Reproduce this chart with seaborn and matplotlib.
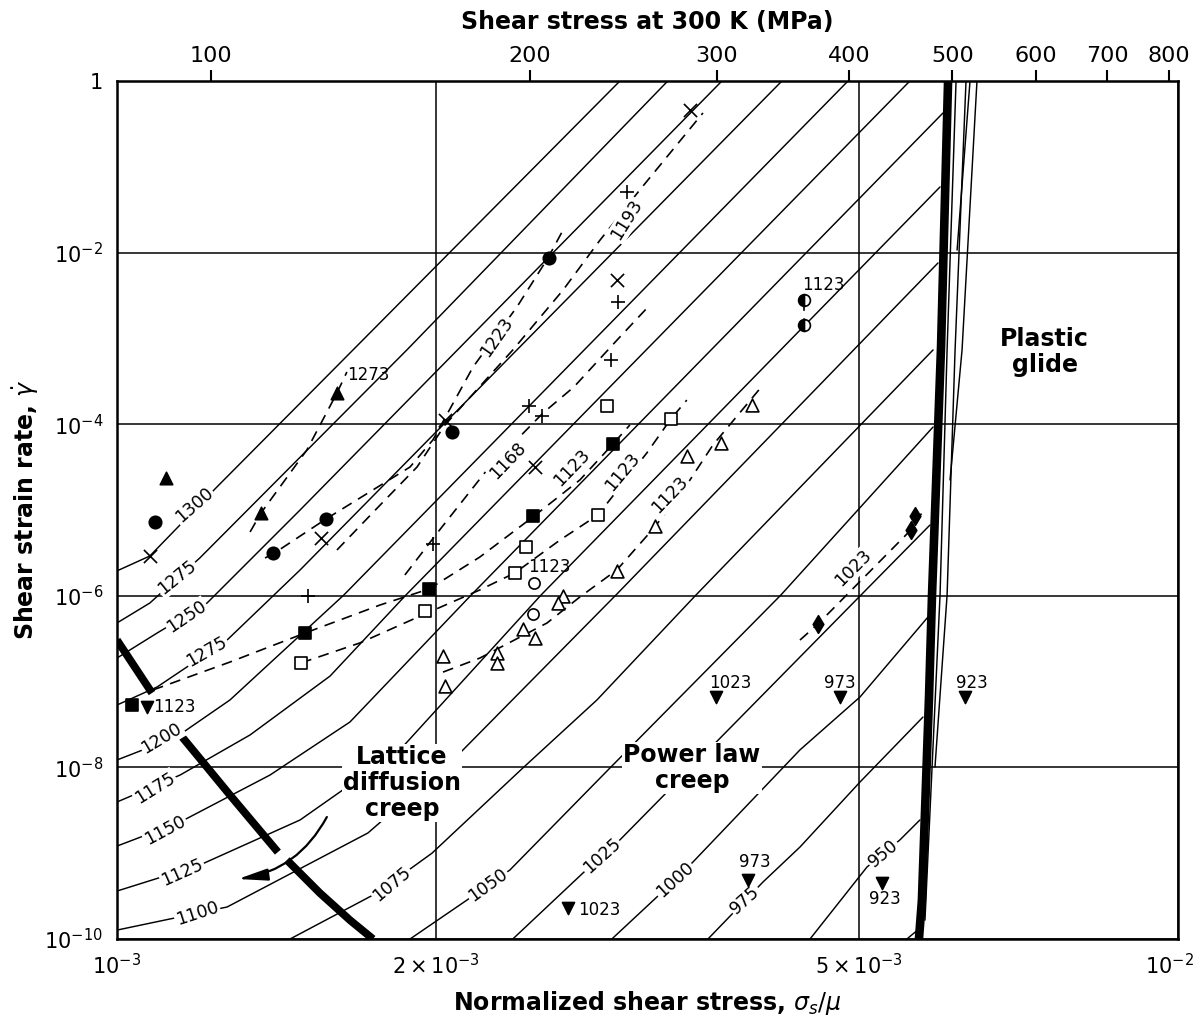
import matplotlib
matplotlib.use("Agg")
import matplotlib.pyplot as plt
from matplotlib.ticker import NullLocator
from matplotlib.transforms import ScaledTranslation
import pandas as pd
import seaborn as sns

MU = 81.6e3  # shear modulus at 300 K, MPa

# temperature contours (K): (normalized shear stress, shear strain rate)
iso_1300 = ([1.000e-3, 1.074e-3, 1.242e-3, 1.669e-3, 2.979e-3],
            [1.95e-6, 2.91e-6, 1.85e-5, 7.33e-4, 1.0])
iso_1275 = ([1.000e-3, 1.074e-3, 1.197e-3, 1.876e-3, 3.305e-3],
            [4.82e-7, 8.24e-7, 2.76e-6, 7.33e-4, 1.0])
iso_1250 = ([1.000e-3, 1.091e-3, 1.216e-3, 1.488e-3, 3.717e-3],
            [1.88e-7, 3.68e-7, 8.24e-7, 1.00e-5, 1.0])
iso_1225 = ([1.000e-3, 1.091e-3, 1.270e-3, 1.488e-3, 4.234e-3],
            [5.33e-8, 8.65e-8, 3.05e-7, 2.00e-6, 1.0])
iso_1200 = ([1.000e-3, 1.058e-3, 1.152e-3, 1.278e-3, 1.636e-3, 4.887e-3],
            [1.22e-8, 1.60e-8, 2.52e-8, 6.11e-8, 1.02e-6, 1.0])
iso_1175 = ([1.000e-3, 1.147e-3, 1.335e-3, 1.588e-3, 1.872e-3, 5.589e-3],
            [3.95e-9, 8.15e-9, 2.39e-8, 1.16e-7, 1.02e-6, 1.0])
iso_1150 = ([1.000e-3, 1.147e-3, 1.394e-3, 1.658e-3, 2.157e-3, 6.006e-3],
            [1.21e-9, 2.31e-9, 8.15e-9, 3.38e-8, 1.02e-6, 0.424])
iso_1125 = ([1.000e-3, 1.197e-3, 1.488e-3, 1.848e-3, 2.510e-3, 5.967e-3],
            [3.62e-10, 7.28e-10, 2.44e-9, 1.60e-8, 1.02e-6, 5.82e-2])
iso_1100 = ([1.000e-3, 1.270e-3, 1.724e-3, 2.105e-3, 2.953e-3, 5.941e-3],
            [1.27e-10, 2.36e-10, 1.72e-9, 1.47e-8, 1.02e-6, 7.57e-3])
iso_1075 = ([1.456e-3, 1.758e-3, 1.981e-3, 2.413e-3, 2.834e-3, 3.513e-3, 5.877e-3],
            [1e-10, 3.44e-10, 1.00e-9, 9.84e-9, 6.11e-8, 1.02e-6, 7.33e-4])
iso_1050 = ([1.889e-3, 2.138e-3, 2.346e-3, 2.915e-3, 4.224e-3, 5.877e-3],
            [1e-10, 2.85e-10, 6.37e-10, 9.84e-9, 1.02e-6, 9.27e-5])
iso_1025 = ([2.361e-3, 2.749e-3, 2.979e-3, 5.026e-3, 5.838e-3],
            [1e-10, 5.87e-10, 1.43e-9, 1.02e-6, 6.68e-6])
iso_1000 = ([2.927e-3, 3.228e-3, 3.490e-3, 4.403e-3, 5.016e-3, 5.813e-3],
            [1e-10, 3.09e-10, 7.88e-10, 1.60e-8, 6.62e-8, 5.66e-7])
iso_975 = ([3.606e-3, 4.063e-3, 4.403e-3, 5.016e-3, 5.750e-3],
           [1e-10, 4.61e-10, 1.18e-9, 6.76e-9, 3.86e-8])
iso_950 = ([4.500e-3, 5.092e-3, 5.470e-3, 5.712e-3],
           [1e-10, 6.90e-10, 1.43e-9, 2.44e-9])
iso_925 = ([5.553e-3, 5.700e-3], [1e-10, 1.31e-10])

# plastic glide contours
glide_a = ([5.775e-3, 5.967e-3, 6.059e-3, 6.178e-3], [1.66e-10, 1.02e-6, 7.33e-4, 1.0])
glide_b = ([5.902e-3, 6.059e-3, 6.165e-3, 6.313e-3], [1.01e-8, 1.02e-6, 7.33e-4, 1.0])
glide_c = ([6.098e-3, 6.259e-3, 6.465e-3], [2.24e-5, 7.33e-4, 1.0])
glide_d = ([6.192e-3, 6.368e-3], [1.07e-2, 1.0])

# field boundaries
plastic_edge = ([6.072e-3, 5.980e-3, 5.864e-3, 5.826e-3, 5.737e-3, 5.700e-3],
                [1.0, 7.94e-4, 1.02e-6, 6.62e-8, 2.85e-10, 1e-10])
diffusion_edge_a = ([1.000e-3, 1.079e-3], [3.05e-7, 7.36e-8])
diffusion_edge_b = ([1.152e-3, 1.278e-3, 1.418e-3], [2.26e-8, 4.76e-9, 1.03e-9])
diffusion_edge_c = ([1.446e-3, 1.553e-3, 1.658e-3, 1.743e-3], [8.33e-10, 3.44e-10, 1.66e-10, 1e-10])

# experimental fits (dashed)
fit_1273 = ([1.335e-3, 1.367e-3, 1.510e-3, 1.612e-3, 1.647e-3],
            [5.55e-6, 9.23e-6, 5.00e-5, 2.31e-4, 4.06e-4])
fit_1223 = ([1.379e-3, 1.403e-3, 1.574e-3, 1.889e-3, 1.985e-3, 2.166e-3, 2.382e-3, 2.548e-3, 2.633e-3],
            [2.76e-6, 3.07e-6, 7.85e-6, 3.17e-5, 6.55e-5, 4.65e-4, 2.32e-3, 8.65e-3, 1.83e-2])
fit_1193 = ([1.612e-3, 1.770e-3, 1.918e-3, 2.038e-3, 2.361e-3, 2.633e-3, 2.852e-3, 3.110e-3, 3.567e-3],
            [3.42e-6, 1.14e-5, 3.17e-5, 9.80e-5, 7.33e-4, 3.66e-3, 1.39e-2, 5.37e-2, 0.424])
fit_1168 = ([1.868e-3, 2.004e-3, 2.232e-3, 2.521e-3, 2.696e-3, 2.979e-3, 3.179e-3],
            [1.75e-6, 5.40e-6, 2.92e-5, 1.35e-4, 2.72e-4, 1.04e-3, 2.45e-3])
fit_1123_a = ([1.081e-3, 1.278e-3, 1.504e-3, 1.770e-3, 1.968e-3, 2.198e-3, 2.466e-3, 2.731e-3, 2.934e-3, 3.044e-3],
              [7.98e-8, 1.69e-7, 3.68e-7, 7.81e-7, 1.20e-6, 2.83e-6, 8.28e-6, 2.24e-5, 5.87e-5, 9.80e-5])
fit_1123_b = ([1.491e-3, 1.694e-3, 1.951e-3, 2.198e-3, 2.372e-3, 2.616e-3, 2.840e-3, 3.158e-3, 3.327e-3, 3.444e-3],
              [1.65e-7, 2.82e-7, 6.14e-7, 1.17e-6, 1.85e-6, 4.47e-6, 8.75e-6, 4.62e-5, 1.15e-4, 1.91e-4])
fit_1123_c = ([2.029e-3, 2.198e-3, 2.543e-3, 2.731e-3, 2.959e-3, 3.213e-3, 3.468e-3, 3.645e-3, 4.063e-3],
              [1.29e-7, 1.88e-7, 4.82e-7, 9.69e-7, 2.00e-6, 6.34e-6, 2.24e-5, 5.72e-5, 2.86e-4])
fit_1123_d = ([4.441e-3, 4.441e-3], [2.81e-3, 1.43e-3])
fit_1023 = ([4.403e-3, 4.578e-3, 5.601e-3, 5.775e-3], [3.05e-7, 4.69e-7, 5.85e-6, 1.05e-5])

# experimental points
tri_up = ([1.112e-3, 1.367e-3, 1.612e-3], [2.36e-5, 9.23e-6, 2.31e-4])
dots = ([1.086e-3, 1.403e-3, 1.574e-3, 2.069e-3, 2.554e-3],
        [7.24e-6, 3.16e-6, 7.85e-6, 8.11e-5, 8.65e-3])
crosses_x = ([1.074e-3, 1.557e-3, 2.038e-3, 2.477e-3, 2.959e-3, 3.468e-3],
             [2.91e-6, 4.72e-6, 1.12e-4, 3.17e-5, 4.80e-3, 0.459])
crosses_plus = ([1.514e-3, 1.985e-3, 2.445e-3, 2.515e-3, 2.921e-3, 2.966e-3, 3.024e-3],
                [9.95e-7, 4.02e-6, 1.63e-4, 1.25e-4, 5.60e-4, 2.65e-3, 5.08e-2])
squares_full = ([1.033e-3, 1.504e-3, 1.968e-3, 2.466e-3, 2.934e-3],
                [5.33e-8, 3.68e-7, 1.20e-6, 8.51e-6, 5.87e-5])
squares_open = ([1.491e-3, 1.951e-3, 2.372e-3, 2.429e-3, 2.840e-3, 2.896e-3, 3.327e-3],
                [1.65e-7, 6.65e-7, 1.85e-6, 3.71e-6, 8.75e-6, 1.63e-4, 1.15e-4])
rings = ([2.472e-3, 2.466e-3], [1.41e-6, 6.14e-7])
tri_open = ([3.967e-3, 3.709e-3, 3.444e-3, 3.213e-3, 2.959e-3, 2.633e-3, 2.604e-3,
             2.413e-3, 2.477e-3, 2.281e-3, 2.281e-3, 2.029e-3, 2.038e-3],
            [1.67e-4, 6.04e-5, 4.26e-5, 6.52e-6, 1.95e-6, 9.95e-7, 8.24e-7,
             4.10e-7, 3.22e-7, 2.15e-7, 1.65e-7, 1.99e-7, 8.89e-8])
tri_down = ([1.067e-3, 3.669e-3, 4.804e-3, 6.300e-3, 2.661e-3, 3.933e-3, 5.260e-3],
            [5.06e-8, 6.62e-8, 6.62e-8, 6.62e-8, 2.30e-10, 4.88e-10, 4.50e-10])
diamonds = ([4.578e-3, 5.601e-3, 5.650e-3], [4.69e-7, 5.85e-6, 8.51e-6])
half_rings = ([4.441e-3, 4.441e-3], [2.81e-3, 1.43e-3])

top_ticks = [100, 200, 300, 400, 500, 600, 700, 800]
x_ticks = [1e-3, 2e-3, 5e-3, 1e-2]
x_tick_labels = [r"$10^{-3}$", r"$2\times10^{-3}$", r"$5\times10^{-3}$", r"$10^{-2}$"]
y_ticks = [1e-10, 1e-8, 1e-6, 1e-4, 1e-2, 1]
y_tick_labels = [r"$10^{-10}$", r"$10^{-8}$", r"$10^{-6}$", r"$10^{-4}$", r"$10^{-2}$", "1"]

iso_labels = [("1300", 1.182e-3, 1.14e-5, 41), ("1275", 1.139e-3, 1.66e-6, 39),
              ("1250", 1.164e-3, 5.66e-7, 34), ("1275", 1.216e-3, 2.21e-7, 30),
              ("1200", 1.102e-3, 2.20e-8, 31), ("1175", 1.086e-3, 5.75e-9, 32),
              ("1150", 1.110e-3, 1.86e-9, 28), ("1125", 1.152e-3, 6.04e-10, 24),
              ("1100", 1.190e-3, 2.01e-10, 18), ("1075", 1.816e-3, 4.38e-10, 40),
              ("1050", 2.237e-3, 4.26e-10, 36), ("1025", 2.864e-3, 9.27e-10, 42),
              ("1000", 3.356e-3, 4.88e-10, 42), ("975", 3.907e-3, 2.85e-10, 42),
              ("950", 5.272e-3, 1.00e-9, 40)]
fit_labels = [("1223", 2.281e-3, 1.04e-3, 55), ("1193", 3.024e-3, 2.40e-2, 58),
              ("1168", 2.336e-3, 3.72e-5, 46), ("1123", 2.684e-3, 3.09e-5, 46),
              ("1123", 2.992e-3, 2.77e-5, 50), ("1123", 3.320e-3, 1.50e-5, 46),
              ("1023", 4.941e-3, 2.11e-6, 45)]
point_labels = [("1273", 1.647e-3, 3.74e-4, "left"), ("1123", 2.554e-3, 2.17e-6, "center"),
                ("1123", 4.628e-3, 4.19e-3, "center"), ("1123", 1.081e-3, 5.06e-8, "left"),
                ("1023", 3.782e-3, 9.64e-8, "center"), ("973", 4.804e-3, 9.64e-8, "center"),
                ("923", 6.394e-3, 9.64e-8, "center"), ("1023", 2.719e-3, 2.18e-10, "left"),
                ("973", 3.993e-3, 7.89e-10, "center"), ("923", 5.294e-3, 2.92e-10, "center")]


def stack(lines):
    rows = []
    for k, (stress, rate) in enumerate(lines):
        rows += [(k, s, r) for s, r in zip(stress, rate)]
    return pd.DataFrame(rows, columns=["line", "stress", "rate"])


def draw_lines(ax, lines, **kws):
    sns.lineplot(data=stack(lines), x="stress", y="rate", units="line",
                 estimator=None, sort=False, color="k", ax=ax, **kws)


def draw_points(ax, pts, marker, face="k", size=75, lw=1.2):
    stress, rate = pts
    if marker in ("+", "x"):
        sns.scatterplot(x=stress, y=rate, marker=marker, color="k", s=size,
                        linewidth=lw, ax=ax, zorder=6)
    else:
        sns.scatterplot(x=stress, y=rate, marker=marker, color=face, edgecolor="k",
                        s=size, linewidth=lw, ax=ax, zorder=6)


sns.set_style("white")
plt.rcParams["font.family"] = ["DejaVu Sans"]
plt.rcParams["mathtext.fontset"] = "dejavusans"
for key in ("text.color", "axes.labelcolor", "xtick.color", "ytick.color", "axes.edgecolor"):
    plt.rcParams[key] = "black"

fig = plt.figure(figsize=(12.02, 10.25), dpi=100)
ax = fig.add_axes([0.0973, 0.0839, 0.8827, 0.8371])
ax.set_xscale("log")
ax.set_yscale("log")

draw_lines(ax, [iso_1300, iso_1275, iso_1250, iso_1225, iso_1200, iso_1175, iso_1150,
                iso_1125, iso_1100, iso_1075, iso_1050, iso_1025, iso_1000, iso_975,
                iso_950, iso_925, glide_a, glide_b, glide_c, glide_d],
           lw=1.05, zorder=2)
draw_lines(ax, [plastic_edge], lw=6.2, zorder=3, solid_capstyle="butt")
draw_lines(ax, [diffusion_edge_a, diffusion_edge_b, diffusion_edge_c], lw=5.6, zorder=3,
           solid_capstyle="butt")
draw_lines(ax, [fit_1273, fit_1223, fit_1193, fit_1168, fit_1123_a, fit_1123_b,
                fit_1123_c, fit_1123_d, fit_1023],
           lw=1.2, zorder=2, linestyle=(0, (6.5, 4.5)))

draw_points(ax, tri_up, "^", size=80)
draw_points(ax, dots, "o", size=80)
draw_points(ax, crosses_x, "x", size=90)
draw_points(ax, crosses_plus, "+", size=110)
draw_points(ax, squares_full, "s", size=65)
draw_points(ax, squares_open, "s", face="white", size=65)
draw_points(ax, rings, "o", face="white", size=65)
draw_points(ax, tri_open, "^", face="white", size=85)
draw_points(ax, tri_down, "v", size=75)
draw_points(ax, diamonds, "d", size=80)
ax.plot(*half_rings, "o", ms=8.5, fillstyle="left", mfc="k", mfcalt="white",
        mec="k", mew=1.2, ls="none", zorder=6)

lbl_box = dict(boxstyle="square,pad=0.08", fc="white", ec="none")
for txt, s, r, ang in iso_labels + fit_labels:
    ax.text(s, r, txt, rotation=ang, rotation_mode="anchor", ha="center", va="center",
            fontsize=12.5, bbox=lbl_box, zorder=4)
for txt, s, r, ha in point_labels:
    ax.text(s, r, txt, ha=ha, va="center", fontsize=12, zorder=4)

region_font = dict(fontsize=17, fontweight="bold", ha="center", va="center",
                   linespacing=1.1, zorder=4)
ax.text(1.856e-3, 6.58e-9, "Lattice\ndiffusion\ncreep",
        bbox=dict(fc="white", ec="none", pad=1), **region_font)
ax.text(3.483e-3, 9.84e-9, "Power law\ncreep",
        bbox=dict(fc="white", ec="none", pad=1), **region_font)
ax.text(7.49e-3, 6.94e-4, "Plastic\nglide", **region_font)

ax.annotate("", xy=(1.300e-3, 5.00e-10), xytext=(1.577e-3, 2.64e-9),
            arrowprops=dict(arrowstyle="-|>,head_length=0.9,head_width=0.18",
                            connectionstyle="arc3,rad=-0.25", color="k", lw=1.6,
                            mutation_scale=20, shrinkA=0, shrinkB=0), zorder=5)

ax.set_xlim(1e-3, 1e-2)
ax.set_ylim(1e-10, 1)
ax.set_xticks(x_ticks, labels=x_tick_labels)
ax.set_yticks(y_ticks, labels=y_tick_labels)
ax.xaxis.set_minor_locator(NullLocator())
ax.yaxis.set_minor_locator(NullLocator())
ax.tick_params(axis="both", length=0, labelsize=15, pad=10)
# keep the last bottom label inside the figure
last = ax.get_xticklabels()[-1]
last.set_transform(last.get_transform() + ScaledTranslation(-6 / 72, 0, fig.dpi_scale_trans))
ax.grid(True, color="k", lw=1.1)
for sp in ax.spines.values():
    sp.set_linewidth(1.8)

ax.set_xlabel(r"Normalized shear stress, $\sigma_s/\mu$", fontsize=17,
              fontweight="bold", labelpad=8)
ax.set_ylabel(r"Shear strain rate, $\dot{\gamma}$", fontsize=17, fontweight="bold")
ax.yaxis.set_label_coords(-0.072, 0.5)

top = ax.secondary_xaxis("top", functions=(lambda s: s * MU, lambda t: t / MU))
top.set_xticks(top_ticks, labels=[str(t) for t in top_ticks])
top.xaxis.set_minor_locator(NullLocator())
top.tick_params(direction="out", length=8, width=1.5, labelsize=16, pad=3)
top.set_xlabel("Shear stress at 300 K (MPa)", fontsize=17, fontweight="bold", labelpad=12)

fig.savefig("out.png", dpi=100)
